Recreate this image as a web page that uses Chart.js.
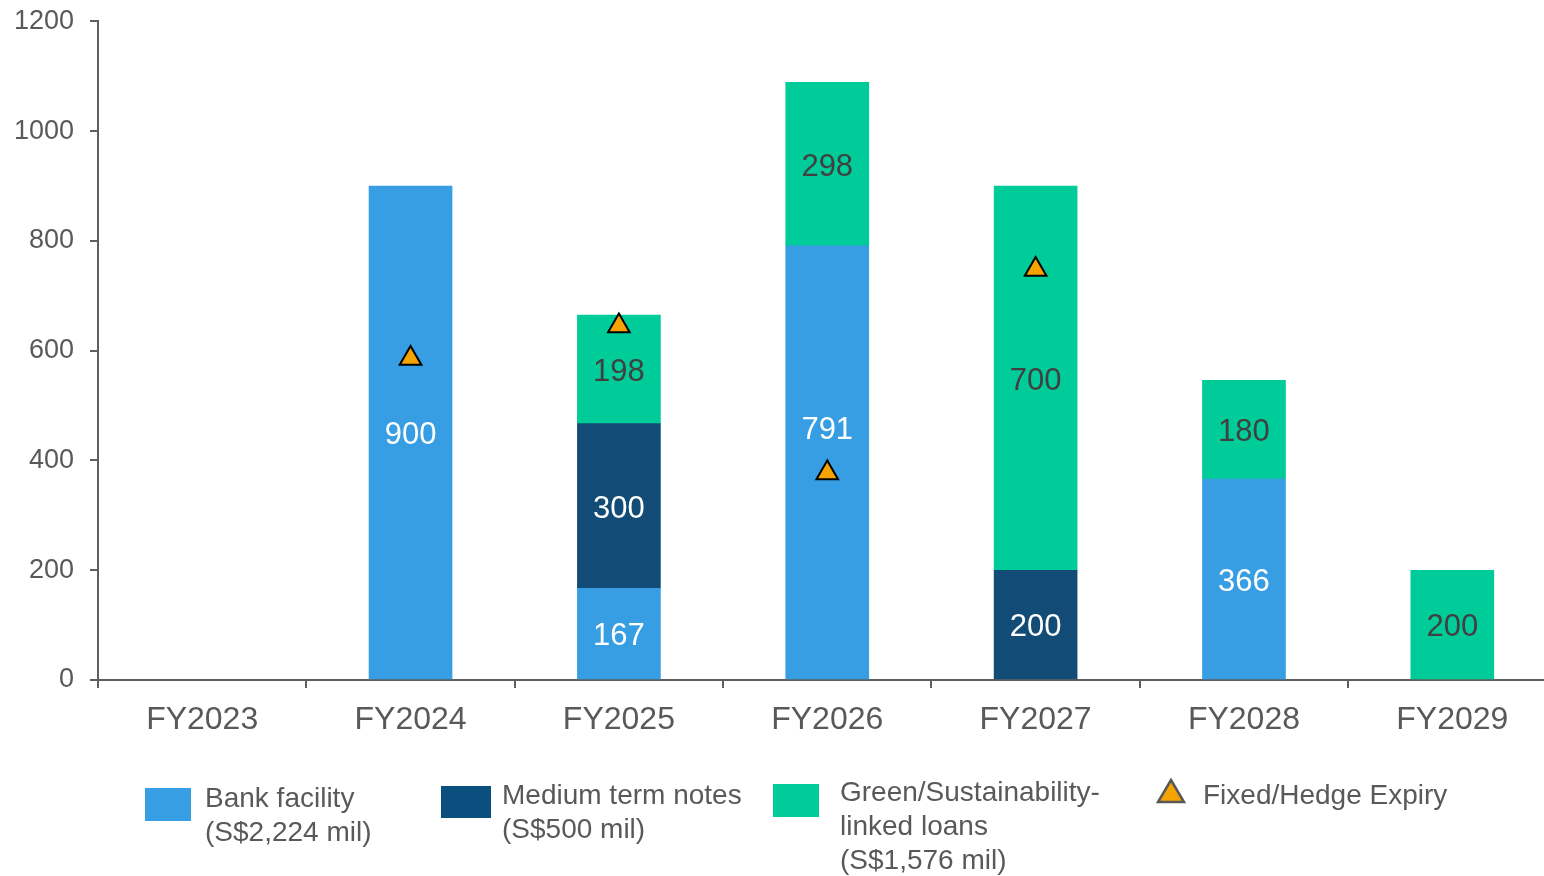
<!DOCTYPE html>
<html>
<head>
<meta charset="utf-8">
<script src="https://cdn.jsdelivr.net/npm/chart.js@4/dist/chart.umd.min.js"></script>
<style>
  html, body { margin: 0; padding: 0; background: #fff; overflow: hidden; width: 1544px; height: 876px; }
  #wrap { position: absolute; left: 0; top: 0; width: 1571px; height: 876px; }
  #c { display: block; width: 1571px; height: 876px; }
  .lg { position: absolute; font-family: "Liberation Sans", Arial, sans-serif; font-size: 28px; color: #595959; line-height: 34px; white-space: nowrap; }
  .sw { position: absolute; }
</style>
</head>
<body>
<div id="wrap"><canvas id="c" width="1571" height="876" style="width:1571px;height:876px"></canvas></div>

<div class="sw" style="left:145px;top:788px;width:46px;height:33px;background:#379EE4"></div>
<div class="lg" style="left:205px;top:781px">Bank facility<br>(S$2,224 mil)</div>
<div class="sw" style="left:441px;top:786px;width:50px;height:32px;background:#0B4F7E"></div>
<div class="lg" style="left:502px;top:778px">Medium term notes<br>(S$500 mil)</div>
<div class="sw" style="left:773px;top:784px;width:46px;height:33px;background:#00CC99"></div>
<div class="lg" style="left:840px;top:775px">Green/Sustainability-<br>linked loans<br>(S$1,576 mil)</div>
<svg style="position:absolute;left:1155px;top:777px" width="32" height="28"><polygon points="16,3 29,25 3,25" fill="#F5A300" stroke="#595959" stroke-width="2.5" stroke-linejoin="miter"/></svg>
<div class="lg" style="left:1203px;top:778px">Fixed/Hedge Expiry</div>

<script>
const categories = ["FY2023", "FY2024", "FY2025", "FY2026", "FY2027", "FY2028", "FY2029"];
const bankFacility = [null, 900, 167, 791, null, 366, null];
const mediumTermNotes = [null, null, 300, null, 200, null, null];
const greenLoans = [null, null, 198, 298, 700, 180, 200];
const hedgeExpiry = [null, 586, 645, 377, 748, null, null];
const yTicks = [0, 200, 400, 600, 800, 1000, 1200];

const FONT = '"Liberation Sans", Arial, sans-serif';
const AXIS = '#5f5f5f';
const TXT = '#595959';

const labelColors = ['#ffffff', '#ffffff', '#404040'];
const labelNudge = { '0-3': -35 };

const barLabels = {
  id: 'barLabels',
  afterDatasetsDraw(chart) {
    const ctx = chart.ctx;
    ctx.save();
    ctx.font = '31px ' + FONT;
    ctx.textAlign = 'center';
    ctx.textBaseline = 'middle';
    chart.data.datasets.forEach((ds, di) => {
      if (ds.type === 'line') return;
      const meta = chart.getDatasetMeta(di);
      meta.data.forEach((el, i) => {
        const v = ds.data[i];
        if (v == null) return;
        const y = (el.y + el.base) / 2 + (labelNudge[di + '-' + i] || 0);
        ctx.fillStyle = labelColors[di];
        ctx.fillText(String(v), el.x, y + 3);
      });
    });
    ctx.restore();
  }
};

new Chart(document.getElementById('c'), {
  type: 'bar',
  data: {
    labels: categories,
    datasets: [
      { label: 'Bank facility (S$2,224 mil)', data: bankFacility, backgroundColor: '#379EE4', stack: 'debt', order: 1, barThickness: 83 },
      { label: 'Medium term notes (S$500 mil)', data: mediumTermNotes, backgroundColor: '#124C76', stack: 'debt', order: 1, barThickness: 83 },
      { label: 'Green/Sustainability-linked loans (S$1,576 mil)', data: greenLoans, backgroundColor: '#00CC99', stack: 'debt', order: 1, barThickness: 83 },
      { type: 'line', label: 'Fixed/Hedge Expiry', data: hedgeExpiry, stack: 'hedge', order: 0, showLine: false,
        pointStyle: 'triangle', pointRadius: 12.5, pointHoverRadius: 12.5, pointBackgroundColor: '#F5A300',
        pointBorderColor: '#000000', pointBorderWidth: 2 }
    ]
  },
  options: {
    responsive: false,
    maintainAspectRatio: false,
    animation: false,
    devicePixelRatio: 1,
    layout: { padding: { top: 21, right: 0, left: 0, bottom: 0 } },
    plugins: { legend: { display: false }, tooltip: { enabled: false } },
    scales: {
      x: {
        stacked: true,
        offset: true,
        grid: { display: true, drawOnChartArea: false, drawTicks: true, tickLength: 8, offset: true, color: AXIS, lineWidth: 2 },
        border: { display: true, color: AXIS, width: 2 },
        ticks: { color: TXT, font: { family: FONT, size: 32, lineHeight: 2.0 }, padding: 0, maxRotation: 0, autoSkip: false },
        afterFit(s) { s.height = 196; }
      },
      y: {
        stacked: true,
        min: 0, max: 1200,
        afterBuildTicks(s) { s.ticks = yTicks.map(v => ({ value: v })); },
        grid: { display: true, drawOnChartArea: false, drawTicks: true, tickLength: 8, color: AXIS, lineWidth: 2 },
        border: { display: true, color: AXIS, width: 2 },
        ticks: { color: TXT, font: { family: FONT, size: 27, lineHeight: 0.4 }, padding: 16, callback: v => String(v) },
        afterFit(s) { s.width = 98; }
      }
    }
  },
  plugins: [barLabels]
});
</script>
</body>
</html>
